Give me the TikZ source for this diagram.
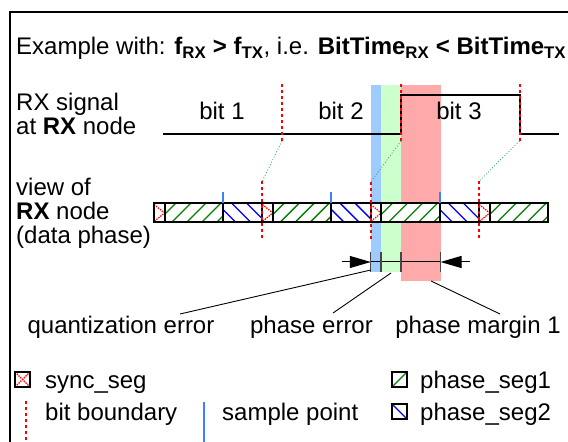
\documentclass[tikz,border=0pt]{standalone}
\usepackage{fontspec}
\setmainfont{Liberation Sans}
\usetikzlibrary{arrows.meta}
\definecolor{bandblue}{RGB}{158,204,255}
\definecolor{bandgreen}{RGB}{204,255,204}
\definecolor{bandred}{RGB}{255,170,170}
\definecolor{samplecol}{RGB}{64,128,255}
\definecolor{conncol}{RGB}{60,170,120}
\definecolor{segg}{RGB}{0,128,0}
\definecolor{segb}{RGB}{0,0,255}
\definecolor{tickcol}{RGB}{70,70,70}
\begin{document}
\begin{tikzpicture}[x=1bp,y=-1bp,
  txt/.style={font=\fontsize{24bp}{27bp}\selectfont, inner sep=0pt, anchor=base west},
  txtc/.style={txt, anchor=base},
  bitb/.style={draw=red, line width=2bp, dash pattern=on 3bp off 3bp},
  sigline/.style={draw=black, line width=2bp},
  segline/.style={draw=black, line width=2bp},
  hatchg/.style={draw=segg, line width=1.3bp},
  hatchb/.style={draw=segb, line width=1.3bp},
  hatchr/.style={draw=red, line width=1.2bp, dash pattern=on 1.5bp off 1bp},
  samp/.style={draw=samplecol, line width=2bp},
  conn/.style={draw=conncol, line width=0.9bp, dotted},
  callout/.style={draw=black, line width=0.9bp},
  dimtick/.style={draw=tickcol, line width=1.3bp},
  frameline/.style={draw=black, line width=2bp},
  legbox/.style={draw=black, line width=2.2bp}
]
\useasboundingbox (0,0) rectangle (568,442);
% frame
\draw[frameline] (9.5,442) -- (9.5,12.5) -- (568,12.5);
% title
\node[txt] (title) at (16,55) {Example with: \textbf{f\textsubscript{RX} > f\textsubscript{TX}}, i.e. \textbf{BitTime\textsubscript{RX} < BitTime\textsubscript{TX}}};
% left labels
\node[txt] (l1) at (16,111) {RX signal};
\node[txt] (l2) at (16,135) {at \textbf{RX} node};
\node[txt] (l3) at (16,196) {view of};
\node[txt] (l4) at (16,220) {\textbf{RX} node};
\node[txt] (l5) at (16,244) {(data phase)};
% bands
\fill[bandblue] (370.8,85) rectangle (381,272);
\fill[bandgreen] (381,85) rectangle (401,272);
\fill[bandred] (401,85) rectangle (440.5,281);
% signal
\coordinate (sig0) at (163,134);
\coordinate (e1lo) at (401,134);
\coordinate (e1hi) at (401,95);
\coordinate (e2hi) at (519.5,95);
\coordinate (e2lo) at (519.5,134);
\coordinate (sig1) at (559,134);
\draw[sigline] (sig0) -- (e1lo) -- (e1hi) -- (e2hi) -- (e2lo) -- (sig1);
\node[txtc] (b1) at (222,120) {bit 1};
\node[txtc] (b2) at (341,120) {bit 2};
\node[txtc] (b3) at (459,120) {bit 3};
% TX bit boundaries
\coordinate (tb1t) at (282,84); \coordinate (tb1b) at (282,141);
\coordinate (tb2t) at (401,84); \coordinate (tb2b) at (401,141);
\coordinate (tb3t) at (519.5,84); \coordinate (tb3b) at (519.5,141);
\draw[bitb] (tb1t) -- (tb1b);
\draw[bitb] (tb2t) -- (tb2b);
\draw[bitb] (tb3t) -- (tb3b);
% RX segment bar
\fill[white] (154,203.5) rectangle (548.2,222.5);
\foreach \k in {0,1,2,3}{
  \pgfmathsetmacro\s{154+108.4*\k}
  \pgfmathsetmacro\a{\s+10.5}
  \pgfmathsetmacro\b{\s+69}
  \pgfmathsetmacro\e{\s+108.4}
  \coordinate (sy\k) at (\s,203.5);
  \coordinate (sp\k) at (\b,203.5);
  % sync seg pattern
  \draw[hatchr] (\s,204.5) -- (\a,213) -- (\s,221.5);
  % phase_seg1
  \begin{scope}
    \clip (\a,203.5) rectangle (\b,222.5);
    \foreach \h in {0,15,...,75} \draw[hatchg] (\a+\h-8,222.5) -- ++(19,-19);
  \end{scope}
  \ifnum\k<3
  \begin{scope}
    \clip (\b,203.5) rectangle (\e,222.5);
    \foreach \h in {0,15,...,60} \draw[hatchb] (\b+\h-6,203.5) -- ++(19,19);
  \end{scope}
  \draw[segline] (\e,203.5) -- (\e,222.5);
  \fi
  \draw[segline] (\a,203.5) -- (\a,222.5);
  \draw[segline] (\b,203.5) -- (\b,222.5);
}
\draw[segline] (154,203.5) rectangle (548.2,222.5);
% sample points
\foreach \k in {0,1,2}{
  \pgfmathsetmacro\b{154+108.4*\k+69}
  \draw[samp] (\b,192.5) -- (\b,203.5);
}
% RX bit boundaries
\coordinate (rb1t) at (262.4,181); \coordinate (rb1b) at (262.4,240);
\coordinate (rb2t) at (370.8,182); \coordinate (rb2b) at (370.8,240);
\coordinate (rb3t) at (479.2,181); \coordinate (rb3b) at (479.2,240);
\draw[bitb] (rb1t) -- (rb1b);
\draw[bitb] (rb2t) -- (rb2b);
\draw[bitb] (rb3t) -- (rb3b);
% connectors
\draw[conn] (tb1b) -- (rb1t);
\draw[conn] (tb2b) -- (rb2t);
\draw[conn] (tb3b) -- (rb3t);
% dimension
\coordinate (dl) at (341.7,262);
\coordinate (q1) at (370.8,262);
\coordinate (m2) at (440.5,262);
\coordinate (dr) at (470,262);
\draw[line width=1bp] (q1) -- (m2);
\draw[line width=1bp, -{Triangle[length=21bp,width=12bp]}] (dl) -- (q1);
\draw[line width=1bp, -{Triangle[length=21bp,width=12bp]}] (dr) -- (m2);
\draw[dimtick] (370.8,252) -- (370.8,272);
\draw[dimtick] (381,252) -- (381,272);
\draw[dimtick] (401,252) -- (401,272);
\draw[dimtick] (440.5,252) -- (440.5,272);
% labels and callouts
\node[txtc] (qe) at (121,333) {quantization error};
\node[txtc] (pe) at (311.5,333) {phase error};
\node[txtc] (pm) at (478,333) {phase margin 1};
\coordinate (qa) at (370.8,270);
\coordinate (pa) at (391,273);
\coordinate (ma) at (431,281);
\coordinate (qb) at (180,314);
\coordinate (pb) at (333,313);
\coordinate (mb) at (500,314);
\draw[callout] (qa) -- (qb);
\draw[callout] (pa) -- (pb);
\draw[callout] (ma) -- (mb);
% legend
\fill[white] (15,372) rectangle (30,387);
\draw[hatchr] (15,372) -- (30,387) (15,387) -- (30,372);
\draw[legbox] (15,372) rectangle (30,387);
\node[txt] (lg1) at (45,388) {sync\_seg};
\draw[hatchg] (392,387) -- (407,372);
\draw[legbox] (392,372) rectangle (407,387);
\node[txt] (lg2) at (420,388) {phase\_seg1};
\draw[bitb] (25.5,401) -- (25.5,442);
\node[txt] (lg3) at (45,420) {bit boundary};
\draw[samp] (203.5,402) -- (203.5,442);
\node[txt] (lg4) at (222,420) {sample point};
\draw[hatchb] (392,404) -- (407,419);
\draw[legbox] (392,404) rectangle (407,419);
\node[txt] (lg5) at (420,420) {phase\_seg2};
\end{tikzpicture}
\end{document}
